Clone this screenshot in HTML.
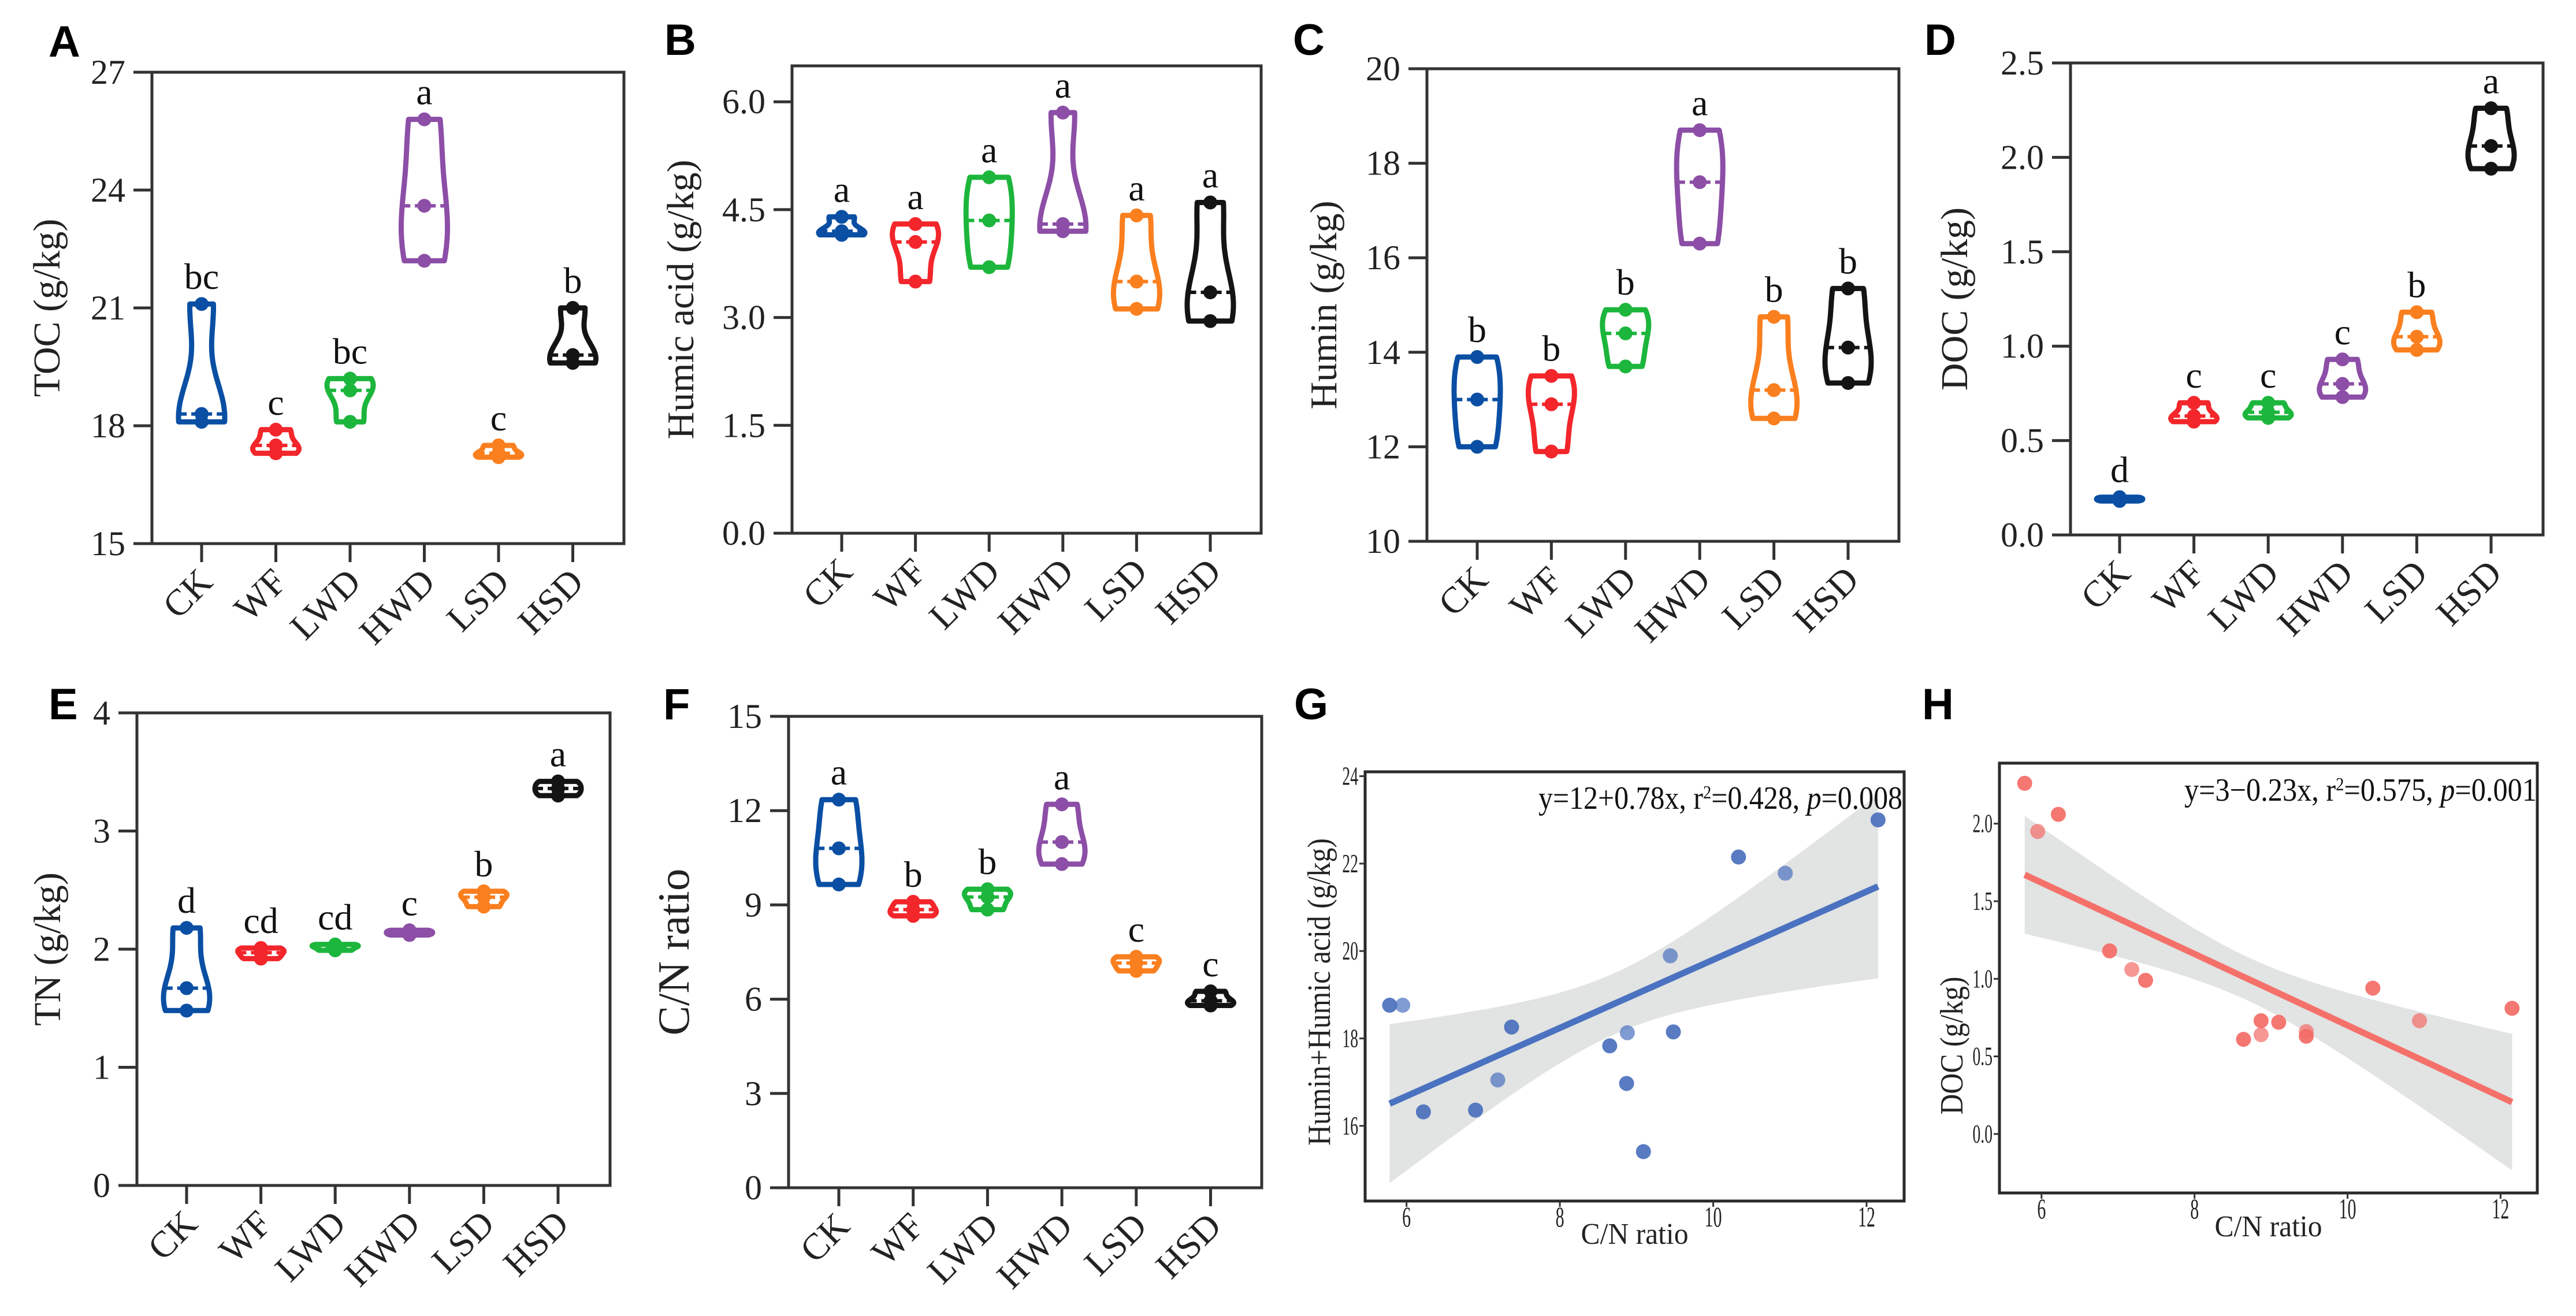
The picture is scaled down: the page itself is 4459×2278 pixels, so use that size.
<!DOCTYPE html>
<html><head><meta charset="utf-8"><style>
html,body{margin:0;padding:0;background:#fff;}
svg{display:block;font-family:"Liberation Serif","Times New Roman",serif;}
.pl{font-family:"Liberation Sans",Arial,sans-serif;font-weight:bold;}
</style></head><body>
<svg id="fig" width="4459" height="2278" viewBox="0 0 4459 2278" xmlns="http://www.w3.org/2000/svg"></svg>
<script>
// ---- violin panel data (3 replicates per treatment) ----
const categories = ['CK','WF','LWD','HWD','LSD','HSD'];
const tocValues = [[18.1,18.3,21.1],[17.3,17.5,17.9],[18.1,18.9,19.2],[22.2,23.6,25.8],[17.2,17.3,17.5],[19.6,19.8,21.0]];
const tocLetters = ['bc','c','bc','a','c','b'];
const humicValues = [[4.15,4.2,4.4],[3.5,4.05,4.3],[3.7,4.35,4.95],[4.2,4.3,5.85],[3.12,3.5,4.42],[2.95,3.35,4.6]];
const humicLetters = ['a','a','a','a','a','a'];
const huminValues = [[12.0,13.0,13.9],[11.9,12.9,13.5],[13.7,14.4,14.9],[16.3,17.6,18.7],[12.6,13.2,14.75],[13.35,14.1,15.35]];
const huminLetters = ['b','b','b','a','b','b'];
const docValues = [[0.18,0.19,0.2],[0.6,0.63,0.7],[0.62,0.65,0.7],[0.73,0.8,0.93],[0.98,1.05,1.18],[1.94,2.06,2.26]];
const docLetters = ['d','c','c','c','b','a'];
const tnValues = [[1.48,1.67,2.18],[1.92,1.97,2.01],[1.99,2.02,2.04],[2.12,2.14,2.16],[2.36,2.44,2.49],[3.3,3.36,3.42]];
const tnLetters = ['d','cd','cd','c','b','a'];
const cnValues = [[9.65,10.8,12.35],[8.65,8.85,9.1],[8.85,9.25,9.5],[10.3,11.0,12.2],[6.9,7.15,7.35],[5.8,5.95,6.25]];
const cnLetters = ['a','b','b','a','c','c'];
const tocTicks=[15,18,21,24,27], humicTicks=[0,1.5,3,4.5,6], huminTicks=[10,12,14,16,18,20],
      docTicks=[0,0.5,1,1.5,2,2.5], tnTicks=[0,1,2,3,4], cnTicks=[0,3,6,9,12,15];
// ---- regression panels ----
const gX = [5.78,5.95,6.22,6.9,7.19,7.37,8.65,8.88,8.87,9.09,9.44,9.48,10.33,10.94,12.15];
const gY = [18.76,18.76,16.32,16.36,17.05,18.26,17.83,18.13,16.97,15.41,19.89,18.15,22.15,21.78,23.0];
const gCoef = [12, 0.78];
const hX = [5.78,5.95,6.22,6.89,7.18,7.36,8.64,8.87,8.87,9.10,9.46,9.46,10.33,10.94,12.15];
const hY = [2.26,1.95,2.06,1.18,1.06,0.99,0.61,0.64,0.73,0.72,0.66,0.63,0.94,0.73,0.81];
const hCoef = [3, -0.23];
const gXTicks=[6,8,10,12], gYTicks=[16,18,20,22,24], hXTicks=[6,8,10,12], hYTicks=[0,0.5,1,1.5,2];

const NS='http://www.w3.org/2000/svg';
const svg=document.getElementById('fig');
function mk(tag,attrs,parent){const e=document.createElementNS(NS,tag);for(const k in attrs)e.setAttribute(k,attrs[k]);(parent||svg).appendChild(e);return e;}
const colors=['#0a4fa3','#f2262b','#1cb63c','#8c4ea6','#fa7f1f','#141414'];

function violinPanel(p){
  const g=mk('g',{});
  
  
  const [L,T,R,B]=p.box;
  const ys=v=>B-(v-p.ymin)/(p.ymax-p.ymin)*(B-T);
  const xs=i=>p.x0+i*p.step;
  const lt=mk('text',{x:p.lx,y:p.ly,'font-size':76,class:'pl'},g);lt.textContent=p.id;
  
  
  const box=mk('rect',{x:L,y:T,width:R-L,height:B-T,fill:'none',stroke:'#333',"stroke-width":5},g);
  
  
  p.ticks.forEach(t=>{
    const y=ys(t);
    mk('line',{x1:L-32,x2:L,y1:y,y2:y,stroke:'#333','stroke-width':5},g);
    const tx=mk('text',{x:L-46,y:y+20,'font-size':60,'text-anchor':'end',fill:'#222'},g);
    tx.textContent=p.dec?t.toFixed(1):String(t);
    
    
  });
  const yt=mk('text',{x:0,y:0,'font-size':p.tfs||66,'text-anchor':'middle',fill:'#222',transform:`translate(${p.tx},${(T+B)/2}) rotate(-90)`},g);
  yt.textContent=p.title;
  
  
  categories.forEach((c,i)=>{
    const x=xs(i);
    mk('line',{x1:x,x2:x,y1:B,y2:B+32,stroke:'#333','stroke-width':5},g);
    const tx=mk('text',{x:0,y:0,'font-size':64,'text-anchor':'end',fill:'#222',transform:`translate(${x+22},${B+70}) rotate(-45)`},g);
    tx.textContent=c;
    
    
    const vals=p.values[i].slice().sort((a,b)=>a-b);
    const lo=vals[0],hi=vals[2],range=Math.max(hi-lo,1e-6),bw=range*0.32;
    const N=40,pts=[];let mx=0;
    for(let k=0;k<=N;k++){const v=lo+range*k/N;let d=0;vals.forEach(u=>{d+=Math.exp(-0.5*((v-u)/bw)**2);});pts.push([v,d]);mx=Math.max(mx,d);}
    const hw=40;
    let dpath='';
    pts.forEach(([v,d],k)=>{dpath+=(k?'L':'M')+(x+d/mx*hw).toFixed(1)+','+ys(v).toFixed(1);});
    for(let k=N;k>=0;k--){const [v,d]=pts[k];dpath+='L'+(x-d/mx*hw).toFixed(1)+','+ys(v).toFixed(1);}
    dpath+='Z';
    const vp=mk('path',{d:dpath,fill:'none',stroke:colors[i],'stroke-width':9,'stroke-linejoin':'round'},g);
    
    
    const med=vals[1];let dm=0;vals.forEach(u=>{dm+=Math.exp(-0.5*((med-u)/bw)**2);});
    const w=dm/mx*hw;
    const ml=mk('line',{x1:x-w,x2:x+w,y1:ys(med),y2:ys(med),stroke:colors[i],'stroke-width':6,'stroke-dasharray':'14 8'},g);
    
    
    vals.forEach(v=>{
      const pt=mk('circle',{cx:x,cy:ys(v),r:12,fill:colors[i]},g);
      
      
    });
    const lb=mk('text',{x:x,y:ys(hi)-26,'font-size':64,'text-anchor':'middle',fill:'#111'},g);
    lb.textContent=p.letters[i];
    
    
  });
}
violinPanel({id:'A',box:[263,125,1080,941],ymin:15,ymax:27,ticks:tocTicks,values:tocValues,letters:tocLetters,title:'TOC (g/kg)',tx:103,x0:349,step:128.5,lx:84,ly:98});
violinPanel({id:'B',box:[1371,114,2183,923],ymin:-0,ymax:6.5,ticks:humicTicks,dec:true,values:humicValues,letters:humicLetters,title:'Humic acid (g/kg)',tx:1200,x0:1457,step:127.6,lx:1150,ly:95});
violinPanel({id:'C',box:[2470,119,3287,937],ymin:10,ymax:20,ticks:huminTicks,values:huminValues,letters:huminLetters,title:'Humin (g/kg)',tx:2313,x0:2557,step:128.4,lx:2238,ly:95});
violinPanel({id:'D',box:[3584,109,4402,926],ymin:0,ymax:2.5,ticks:docTicks,dec:true,values:docValues,letters:docLetters,title:'DOC (g/kg)',tx:3405,x0:3669,step:128.6,lx:3331,ly:95});
violinPanel({id:'E',box:[237,1234,1056,2052],ymin:0,ymax:4,ticks:tnTicks,values:tnValues,letters:tnLetters,title:'TN (g/kg)',tx:104,x0:323,step:128.6,lx:84,ly:1245});
violinPanel({id:'F',box:[1365,1240,2184,2056],ymin:0,ymax:15,ticks:cnTicks,values:cnValues,letters:cnLetters,title:'C/N ratio',tfs:77,tx:1192,x0:1452,step:128.7,lx:1148,ly:1245});

function regPanel(p){
  const g=mk('g',{});
  
  
  const [L,T,R,B]=p.box;
  const xs=v=>L+(v-p.xmin)/(p.xmax-p.xmin)*(R-L);
  const ys=v=>B-(v-p.ymin)/(p.ymax-p.ymin)*(B-T);
  const lt=mk('text',{x:p.lx,y:p.ly,'font-size':76,class:'pl'},g);lt.textContent=p.id;
  
  
  const x0=Math.min(...p.xs),x1=Math.max(...p.xs);
  const fit=x=>p.coef[0]+p.coef[1]*x;
  const hwf=x=>Math.sqrt(p.ba+p.bb*(x-p.bm)**2);
  let up='',dn='';const N=40;
  for(let k=0;k<=N;k++){const x=x0+(x1-x0)*k/N;up+=(k?'L':'M')+xs(x).toFixed(1)+','+ys(fit(x)+hwf(x)).toFixed(1);}
  for(let k=N;k>=0;k--){const x=x0+(x1-x0)*k/N;dn+='L'+xs(x).toFixed(1)+','+ys(fit(x)-hwf(x)).toFixed(1);}
  const band=mk('path',{d:up+dn+'Z',fill:'#e2e3e3'},g);
  
  
  const ln=mk('line',{x1:xs(x0),y1:ys(fit(x0)),x2:xs(x1),y2:ys(fit(x1)),stroke:p.lc,'stroke-width':11},g);
  
  
  p.xs.forEach((xv,i)=>{
    const c=mk('circle',{cx:xs(xv),cy:ys(p.ys[i]),r:13,fill:p.pc,'fill-opacity':(i%3===1?0.7:0.92)},g);
    
    
  });
  const box=mk('rect',{x:L,y:T,width:R-L,height:B-T,fill:'none',stroke:'#2a2a2a','stroke-width':5},g);
  
  
  p.xt.forEach(t=>{
    const x=xs(t);
    mk('line',{x1:x,x2:x,y1:B,y2:B+10,stroke:'#333','stroke-width':3},g);
    const tx=mk('text',{x:x,y:B+44,'font-size':50,'text-anchor':'middle',fill:'#222',transform:`translate(${x},0) scale(0.6,1) translate(${-x},0)`},g);
    tx.textContent=String(t);
    
    
  });
  p.yt.forEach(t=>{
    const y=ys(t);
    mk('line',{x1:L-10,x2:L,y1:y,y2:y,stroke:'#333','stroke-width':3},g);
    const tx=mk('text',{x:L-12,y:y+15,'font-size':46,'text-anchor':'end',fill:'#222',transform:`translate(${L-12},0) scale(0.6,1) translate(${-(L-12)},0)`},g);
    tx.textContent=p.dec?t.toFixed(1):String(t);
    
    
  });
  const xl=mk('text',{x:(L+R)/2,y:p.xly,'font-size':52,'text-anchor':'middle',fill:'#222',textLength:186,lengthAdjust:'spacingAndGlyphs'},g);
  xl.textContent='C/N ratio';
  
  
  const yl=mk('text',{x:0,y:0,'font-size':56,'text-anchor':'middle',fill:'#222',textLength:p.ylLen,lengthAdjust:'spacingAndGlyphs',transform:`translate(${p.ylx},${p.yly}) rotate(-90)`},g);
  yl.textContent=p.ytitle;
  
  
  const eq=mk('text',{x:p.eqx,y:p.eqy,'font-size':56,fill:'#111',textLength:p.eqw,lengthAdjust:'spacingAndGlyphs'},g);
  eq.innerHTML=p.eq;
  
  
}
regPanel({id:'G',box:[2363,1336,3296,2079],xmin:5.46,xmax:12.49,ymin:14.28,ymax:24.1,xs:gX,ys:gY,coef:gCoef,ba:0.49,bb:0.33,bm:8.7,
  lc:'#4a72c0',pc:'#4a70bd',xt:gXTicks,yt:gYTicks,lx:2240,ly:1245,xly:2153,ytitle:'Humin+Humic acid (g/kg)',ylx:2302,yly:1717,ylLen:532,
  eq:'y=12+0.78x, r<tspan dy="-18" font-size="32">2</tspan><tspan dy="18">=0.428, </tspan><tspan font-style="italic">p</tspan>=0.008',eqx:2663,eqy:1400,eqw:630});
regPanel({id:'H',box:[3461,1321,4392,2065],xmin:5.45,xmax:12.48,ymin:-0.38,ymax:2.39,xs:hX,ys:hY,coef:hCoef,ba:0.0196,bb:0.0146,bm:8.7,
  lc:'#f4716a',pc:'#f46b66',xt:hXTicks,yt:hYTicks,dec:true,lx:3327,ly:1245,xly:2140,ytitle:'DOC (g/kg)',ylx:3397,yly:1810,ylLen:239,
  eq:'y=3−0.23x, r<tspan dy="-18" font-size="32">2</tspan><tspan dy="18">=0.575, </tspan><tspan font-style="italic">p</tspan>=0.001',eqx:3781,eqy:1386,eqw:610});
</script>
</body></html>
